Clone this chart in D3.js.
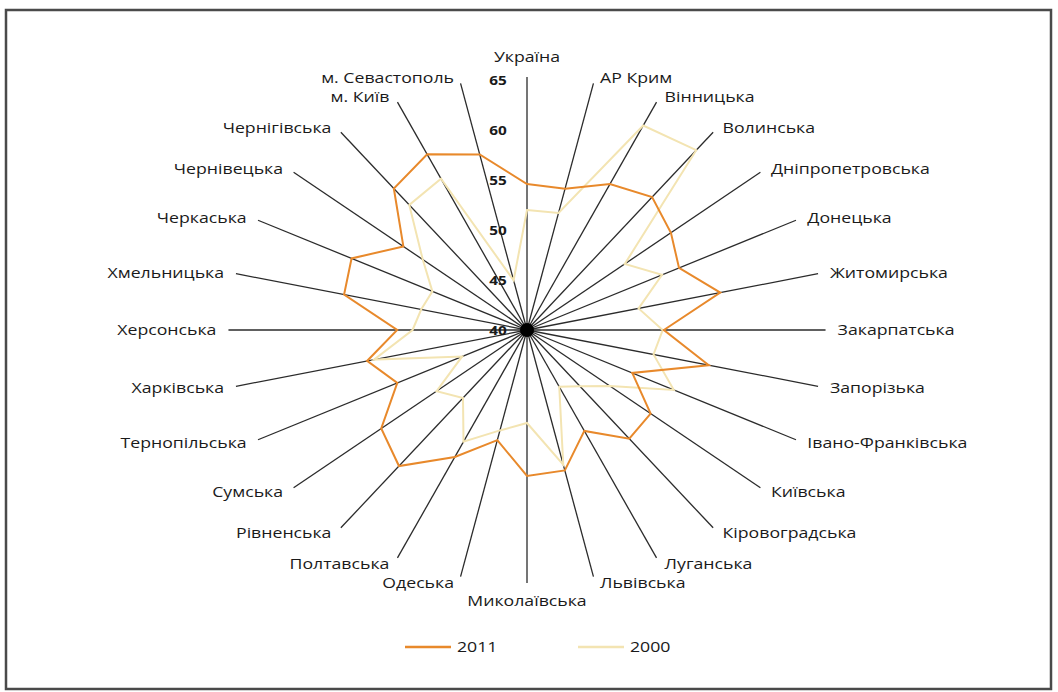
<!DOCTYPE html>
<html><head><meta charset="utf-8">
<script src="https://cdn.jsdelivr.net/npm/d3@7"></script>
<style>
html,body{margin:0;padding:0;background:#fff;}
svg{display:block;}
text{font-family:"Open Sans","Noto Sans",sans-serif;}
</style></head>
<body>
<svg id="chart" width="1058" height="692"></svg>
<script>
const categories = ["Україна","АР Крим","Вінницька","Волинська","Дніпропетровська","Донецька","Житомирська","Закарпатська","Запорізька","Івано-Франківська","Київська","Кіровоградська","Луганська","Львівська","Миколаївська","Одеська","Полтавська","Рівненська","Сумська","Тернопільська","Харківська","Херсонська","Хмельницька","Черкаська","Чернівецька","Чернігівська","м. Київ","м. Севастополь"];
const values2011 = [54.6,54.5,56.2,57.0,55.6,54.3,56.8,51.6,55.8,49.9,53.4,53.9,51.2,54.4,54.6,51.3,54.1,57.4,55.8,52.2,53.9,51.0,55.9,56.5,53.4,58.1,59.5,58.0];
const values2000 = [52.0,52.0,62.7,63.0,50.6,52.7,49.7,51.5,51.0,53.8,49.0,47.2,46.3,53.8,49.3,50.3,52.4,48.7,49.8,46.1,53.3,49.7,49.2,48.9,51.3,56.0,56.8,45.1];
const tickValues = [40,45,50,55,60,65];
const seriesNames = ["2011","2000"];
const seriesColors = ["#E8892B","#F3E4B2"];

const svg = d3.select("#chart");
const cx = 527, cy = 330;
const sx = 1.18; // horizontal stretch of the original picture
const r = d3.scaleLinear().domain([40,65]).range([0,250]);
const n = categories.length;
const ang = i => i * 2 * Math.PI / n;
const pt = (i, rad) => [cx + sx * rad * Math.sin(ang(i)), cy - rad * Math.cos(ang(i))];
const place = (sel, x, y) => sel.attr("transform", `translate(${x},${y}) scale(${sx},1)`);

// frame
svg.append("rect").attr("x",6).attr("y",10).attr("width",1045).attr("height",679)
  .attr("fill","#fff").attr("stroke","#4a4a4a").attr("stroke-width",2.5);

// spokes
const spokeR = r(65) + 3;
svg.append("g").selectAll("line").data(categories).join("line")
  .attr("x1",cx).attr("y1",cy)
  .attr("x2",(d,i)=>pt(i,spokeR)[0]).attr("y2",(d,i)=>pt(i,spokeR)[1])
  .attr("stroke","#2b2b2b").attr("stroke-width",1.3);

// series
const line = d3.line().curve(d3.curveLinearClosed);
[[values2000,1],[values2011,0]].forEach(([vals,k])=>{
  svg.append("path")
    .attr("d", line(vals.map((v,i)=>pt(i, r(v)))))
    .attr("fill","none").attr("stroke",seriesColors[k]).attr("stroke-width",2)
    .attr("stroke-linejoin","miter");
});

// center blob
svg.append("circle").attr("cx",cx).attr("cy",cy).attr("r",7).attr("fill","#000");

// tick labels
svg.append("g").selectAll("text").data(tickValues).join("text")
  .each(function(d){ place(d3.select(this), cx-29, cy - r(d)); })
  .attr("dy","0.35em")
  .attr("text-anchor","middle").attr("font-size",13).attr("font-weight","bold")
  .attr("fill","#1a1a1a").text(d=>d);

// category labels
svg.append("g").selectAll("text").data(categories).join("text")
  .each(function(d,i){
    const a = ang(i), s = Math.sin(a), c = Math.cos(a);
    const e = pt(i, spokeR);
    let anchor = "middle", x = e[0], y = e[1];
    if (s > 0.1) { anchor = "start"; x += 6*s*sx + 5; y -= 6*c; }
    else if (s < -0.1) { anchor = "end"; x += 6*s*sx - 5; y -= 6*c; }
    else { y -= (c > 0 ? 20 : -18); }
    place(d3.select(this), x, y);
    d3.select(this).attr("dy","0.35em")
      .attr("text-anchor",anchor).attr("font-size",15).attr("fill","#1a1a1a").text(d);
  });

// legend
const lg = svg.append("g");
const legX = [405, 578];
seriesNames.forEach((nm,k)=>{
  lg.append("line").attr("x1",legX[k]).attr("x2",legX[k]+46).attr("y1",647).attr("y2",647)
    .attr("stroke",seriesColors[k]).attr("stroke-width",2.5);
  const t = lg.append("text").attr("dy","0.35em")
    .attr("font-size",15).attr("fill","#1a1a1a").text(nm);
  place(t, legX[k]+52, 647);
});
</script>
</body></html>
